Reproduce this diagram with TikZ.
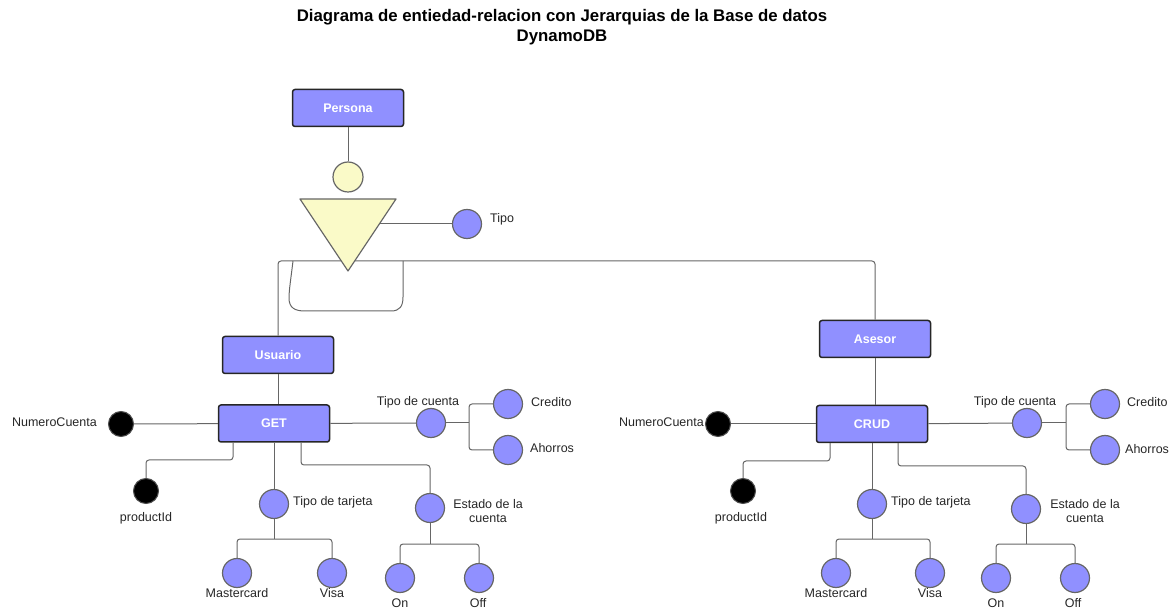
\documentclass[tikz,border=0pt]{standalone}
\usepackage{fontspec}
\setmainfont{Liberation Sans}
\begin{document}
\begin{tikzpicture}[x=1pt,y=-1pt,
  conn/.style={draw=black!60, line width=1pt, rounded corners=3pt},
  entity/.style={draw=black!85, line width=1.5pt, fill=boxblue, rounded corners=2.5pt,
    minimum width=111pt, minimum height=37pt, inner sep=0pt,
    text=white, font=\fontsize{12.5}{14}\selectfont\bfseries},
  attr/.style={circle, draw=black!60, line width=1.2pt, fill=boxblue,
    minimum size=29pt, inner sep=0pt},
  keyattr/.style={circle, draw=black!70, line width=1pt, fill=black,
    minimum size=25pt, inner sep=0pt},
  lbl/.style={font=\fontsize{12.5}{14.5}\selectfont, text=black!85, inner sep=0pt},
  ttl/.style={font=\fontsize{16.8}{20}\selectfont\bfseries, align=center, inner sep=0pt}
]
\definecolor{boxblue}{RGB}{144,144,255}
\definecolor{isapale}{RGB}{250,250,200}

\useasboundingbox (0,0) rectangle (1176,609);

% title
\node[ttl] (title) at (562,27) {Diagrama de entiedad-relacion con Jerarquias de la Base de datos\\DynamoDB};

% ---------- hierarchy ----------
\node[entity] (persona) at (348,108) {Persona};
\node[circle, draw=black!60, line width=1.2pt, fill=isapale, minimum size=30pt, inner sep=0pt] (isa) at (348,177) {};
\node[attr] (tipo) at (467,224) {};
\node[lbl, anchor=west] (tipol) at (490,219) {Tipo};

\node[entity] (usuario) at (278,355) {Usuario};
\node[entity] (asesor) at (875,339) {Asesor};

\coordinate (split) at (278,261);
\draw[conn] (usuario.north) -- (split) -| (asesor.north);
\draw[conn] (persona) -- (isa);

% specialisation triangle and subset cup
\coordinate (triR) at (380,224);
\draw[conn] (triR) -- (tipo);
\draw[draw=black!60, line width=1.2pt, fill=isapale, line join=round]
  (300,199) -- (396,199) -- (348,271) -- cycle;
\draw[draw=black!60, line width=1pt]
  (293,261) .. controls (291,278) and (289,290) .. (289,298)
  .. controls (289,308) and (295,311) .. (305,311) -- (391,311)
  .. controls (400,311) and (403,306) .. (403,297) -- (403,261);

% ---------- Usuario branch ----------
\node[entity] (get) at (274,423.5) {GET};
\draw[conn] (usuario) -- (get.north -| usuario);

\node[keyattr] (numL) at (121,424) {};
\node[lbl, anchor=east] at (97,422) {NumeroCuenta};
\draw[conn] (numL) -- (get);

\node[attr] (tcL) at (431,423) {};
\node[lbl] at (418,402) {Tipo de cuenta};
\draw[conn] (get) -- (tcL);
\node[attr] (crL) at (508,404) {};
\node[lbl, anchor=west] at (531,402) {Credito};
\node[attr] (ahL) at (508,450) {};
\node[lbl, anchor=west] at (530,448) {Ahorros};
\coordinate (tcLj) at (469,423);
\draw[conn] (tcL) -- (tcLj);
\draw[conn] (crL) -| (tcLj) |- (ahL);

\node[keyattr] (prL) at (146,491) {};
\node[lbl] at (146,518) {productId};
\coordinate (prLj) at (233,460);
\draw[conn] (prLj |- get.south) -- (prLj) -| (prL);

\node[attr] (ttL) at (274,504) {};
\node[lbl, anchor=west] at (293,502) {Tipo de tarjeta};
\draw[conn] (get.south -| ttL) -- (ttL);
\node[attr] (mcL) at (237,573) {};
\node[lbl] at (237,593) {Mastercard};
\node[attr] (viL) at (332,573) {};
\node[lbl] at (332,593) {Visa};
\coordinate (ttLj) at (274,539);
\draw[conn] (ttL) -- (ttLj);
\draw[conn] (mcL) |- (ttLj) -| (viL);

\node[attr] (esL) at (430,508) {};
\node[lbl, align=center] at (488,511) {Estado de la\\cuenta};
\coordinate (esLj) at (301,465);
\draw[conn] (esLj |- get.south) -- (esLj) -| (esL);
\node[attr] (onL) at (400,578) {};
\node[lbl] at (400,603) {On};
\node[attr] (ofL) at (479,578) {};
\node[lbl] at (478,603) {Off};
\coordinate (esLk) at (430,544);
\draw[conn] (esL) -- (esLk);
\draw[conn] (onL) |- (esLk) -| (ofL);

% ---------- Asesor branch ----------
\node[entity] (crud) at (872,424) {CRUD};
\draw[conn] (asesor) -- (crud.north -| asesor);

\node[keyattr] (numR) at (718,424) {};
\node[lbl, anchor=east] at (704,422) {NumeroCuenta};
\draw[conn] (numR) -- (crud);

\node[attr] (tcR) at (1027,423) {};
\node[lbl] at (1015,402) {Tipo de cuenta};
\draw[conn] (crud) -- (tcR);
\node[attr] (crR) at (1105,404) {};
\node[lbl, anchor=west] at (1127,402) {Credito};
\node[attr] (ahR) at (1105,450) {};
\node[lbl, anchor=west] at (1125,449) {Ahorros};
\coordinate (tcRj) at (1066,423);
\draw[conn] (tcR) -- (tcRj);
\draw[conn] (crR) -| (tcRj) |- (ahR);

\node[keyattr] (prR) at (743,491) {};
\node[lbl] at (741,518) {productId};
\coordinate (prRj) at (830,461);
\draw[conn] (prRj |- crud.south) -- (prRj) -| (prR);

\node[attr] (ttR) at (872,504) {};
\node[lbl, anchor=west] at (891,502) {Tipo de tarjeta};
\draw[conn] (crud.south -| ttR) -- (ttR);
\node[attr] (mcR) at (836,573) {};
\node[lbl] at (836,593) {Mastercard};
\node[attr] (viR) at (930,573) {};
\node[lbl] at (930,593) {Visa};
\coordinate (ttRj) at (872,539);
\draw[conn] (ttR) -- (ttRj);
\draw[conn] (mcR) |- (ttRj) -| (viR);

\node[attr] (esR) at (1026,509) {};
\node[lbl, align=center] at (1085,511) {Estado de la\\cuenta};
\coordinate (esRj) at (898,466);
\draw[conn] (esRj |- crud.south) -- (esRj) -| (esR);
\node[attr] (onR) at (996,578) {};
\node[lbl] at (996,603) {On};
\node[attr] (ofR) at (1075,578) {};
\node[lbl] at (1073,603) {Off};
\coordinate (esRk) at (1026,544);
\draw[conn] (esR) -- (esRk);
\draw[conn] (onR) |- (esRk) -| (ofR);
\end{tikzpicture}
\end{document}
